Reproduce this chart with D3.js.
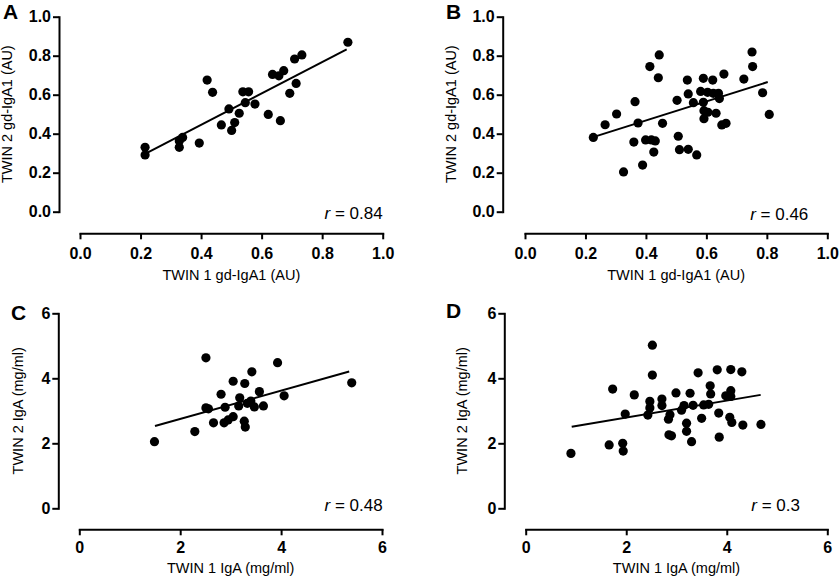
<!DOCTYPE html>
<html>
<head>
<meta charset="utf-8">
<script src="https://cdn.jsdelivr.net/npm/d3@7"></script>
<style>
  html, body { margin: 0; padding: 0; background: #fff; }
  svg { display: block; font-family: "Liberation Sans", Arial, sans-serif; }
</style>
</head>
<body>
<svg id="chart" width="840" height="578"></svg>
<script>
// ---------- DATA ----------
// Panel A: TWIN 1 vs TWIN 2 gd-IgA1 (AU)
const panelA_x = [0.215,0.215,0.328,0.339,0.328,0.394,0.420,0.438,0.467,0.492,0.501,0.511,0.526,0.538,0.557,0.546,0.578,0.622,0.636,0.657,0.673,0.662,0.693,0.714,0.709,0.733,0.885];
const panelA_y = [0.330,0.291,0.363,0.381,0.330,0.352,0.675,0.612,0.445,0.527,0.417,0.457,0.505,0.615,0.615,0.559,0.552,0.499,0.704,0.697,0.723,0.467,0.607,0.658,0.783,0.804,0.869];
const fitA_x = [0.215, 0.881];
const fitA_y = [0.296, 0.833];
const rA = "0.84";

// Panel B: TWIN 1 vs TWIN 2 gd-IgA1 (AU)
const panelB_x = [0.226,0.265,0.303,0.326,0.360,0.364,0.374,0.389,0.399,0.413,0.418,0.431,0.426,0.441,0.444,0.455,0.503,0.507,0.511,0.540,0.537,0.540,0.557,0.568,0.581,0.590,0.590,0.592,0.592,0.604,0.605,0.621,0.623,0.632,0.640,0.643,0.651,0.658,0.665,0.724,0.753,0.751,0.786,0.808];
const panelB_y = [0.381,0.446,0.501,0.204,0.357,0.564,0.455,0.239,0.368,0.744,0.368,0.363,0.306,0.687,0.804,0.453,0.571,0.387,0.318,0.320,0.675,0.604,0.559,0.291,0.617,0.684,0.561,0.518,0.477,0.612,0.510,0.675,0.607,0.505,0.607,0.580,0.445,0.706,0.453,0.680,0.744,0.819,0.610,0.499];
const fitB_x = [0.220, 0.803];
const fitB_y = [0.380, 0.665];
const rB = "0.46";

// Panel C: TWIN 1 vs TWIN 2 IgA (mg/ml)
const panelC_x = [1.49,2.29,2.51,2.51,2.56,2.66,2.81,2.87,2.89,2.95,3.05,3.05,3.18,3.16,3.28,3.27,3.29,3.33,3.42,3.40,3.47,3.57,3.65,3.93,4.06,5.40];
const panelC_y = [2.05,2.36,4.63,3.09,3.06,2.63,3.51,2.63,3.11,2.72,3.91,2.82,3.40,3.15,3.84,2.68,2.50,3.23,4.20,3.30,3.12,3.59,3.15,4.48,3.46,3.86];
const fitC_x = [1.50, 5.35];
const fitC_y = [2.53, 4.21];
const rC = "0.48";

// Panel D: TWIN 1 vs TWIN 2 IgA (mg/ml)
const panelD_x = [0.90,1.66,1.73,1.93,1.94,1.98,2.16,2.43,2.47,2.47,2.52,2.52,2.71,2.71,2.84,2.87,2.85,2.90,2.99,3.10,3.15,3.20,3.20,3.27,3.30,3.33,3.43,3.50,3.54,3.64,3.67,3.68,3.81,3.84,3.85,3.98,4.08,4.08,4.08,4.06,4.10,4.30,4.32,4.68];
const panelD_y = [1.69,1.95,3.67,2.00,1.76,2.90,3.49,2.87,3.29,3.09,5.02,4.10,3.36,3.16,2.74,2.88,2.26,2.23,3.55,3.02,3.16,2.62,2.37,3.54,2.05,3.17,4.17,2.77,3.18,3.20,3.77,3.52,4.26,2.93,2.19,3.46,3.62,4.27,3.44,2.80,2.64,4.20,2.56,2.58];
const fitD_x = [0.915, 4.675];
const fitD_y = [2.51, 3.49];
const rD = "0.3";

const ticksGd = [0.0, 0.2, 0.4, 0.6, 0.8, 1.0];
const ticksIgA = [0, 2, 4, 6];
const letters = ["A", "B", "C", "D"];
const xTitles = ["TWIN 1 gd-IgA1 (AU)", "TWIN 1 gd-IgA1 (AU)", "TWIN 1 IgA (mg/ml)", "TWIN 1 IgA (mg/ml)"];
const yTitles = ["TWIN 2 gd-IgA1 (AU)", "TWIN 2 gd-IgA1 (AU)", "TWIN 2 IgA (mg/ml)", "TWIN 2 IgA (mg/ml)"];

// ---------- LAYOUT ----------
const panels = [
  { xs: panelA_x, ys: panelA_y, fx: fitA_x, fy: fitA_y, r: rA, ticks: ticksGd, fmt: d3.format(".1f"), dom: [0, 1],
    yAxisX: 59, xr: [80, 382.7], yr: [211.7, 16.7], xAxisY: 233.3, xPad: 8.5,
    letter: [3, 19], yTitleX: 11.5, xTitleY: 279.5, rPos: [382.7, 219] },
  { xs: panelB_x, ys: panelB_y, fx: fitB_x, fy: fitB_y, r: rB, ticks: ticksGd, fmt: d3.format(".1f"), dom: [0, 1],
    yAxisX: 502.7, xr: [525, 827.3], yr: [211.7, 16.7], xAxisY: 233.3, xPad: 8.5,
    letter: [446, 19], yTitleX: 455.5, xTitleY: 279.5, rPos: [808.3, 220] },
  { xs: panelC_x, ys: panelC_y, fx: fitC_x, fy: fitC_y, r: rC, ticks: ticksIgA, fmt: d3.format("d"), dom: [0, 6],
    yAxisX: 58.3, xr: [79.3, 382], yr: [508.3, 313.3], xAxisY: 529.3, xPad: 6.5,
    letter: [11, 320], yTitleX: 23, xTitleY: 573, rPos: [382.7, 511] },
  { xs: panelD_x, ys: panelD_y, fx: fitD_x, fy: fitD_y, r: rD, ticks: ticksIgA, fmt: d3.format("d"), dom: [0, 6],
    yAxisX: 504.3, xr: [525.7, 827.3], yr: [508.3, 313.3], xAxisY: 529.3, xPad: 6.5,
    letter: [446, 318], yTitleX: 467, xTitleY: 573, rPos: [800, 511] }
];

const svg = d3.select("#chart");

panels.forEach((p, i) => {
  const g = svg.append("g");
  const x = d3.scaleLinear().domain(p.dom).range(p.xr);
  const y = d3.scaleLinear().domain(p.dom).range(p.yr);

  // Y axis
  const ya = g.append("g")
    .attr("transform", `translate(${p.yAxisX},0)`)
    .call(d3.axisLeft(y).tickValues(p.ticks).tickFormat(p.fmt).tickSize(6).tickSizeOuter(0).tickPadding(2));
  // X axis
  const xa = g.append("g")
    .attr("transform", `translate(0,${p.xAxisY})`)
    .call(d3.axisBottom(x).tickValues(p.ticks).tickFormat(p.fmt).tickSize(6).tickSizeOuter(0).tickPadding(p.xPad));

  [ya, xa].forEach(a => {
    a.select(".domain").attr("stroke", "#000").attr("stroke-width", 2).attr("stroke-linecap", "square");
    a.selectAll(".tick line").attr("stroke", "#000").attr("stroke-width", 2);
    a.selectAll(".tick text").attr("fill", "#000")
      .style("font-family", '"Liberation Sans", Arial, sans-serif')
      .style("font-size", "16px").style("font-weight", "bold");
  });

  // Points
  g.append("g").selectAll("circle")
    .data(p.xs.map((v, k) => [v, p.ys[k]]))
    .join("circle")
    .attr("cx", d => x(d[0]))
    .attr("cy", d => y(d[1]))
    .attr("r", 4.6)
    .attr("fill", "#000");

  // Fit line
  g.append("line")
    .attr("x1", x(p.fx[0])).attr("y1", y(p.fy[0]))
    .attr("x2", x(p.fx[1])).attr("y2", y(p.fy[1]))
    .attr("stroke", "#000").attr("stroke-width", 2);

  // Panel letter
  g.append("text")
    .attr("x", p.letter[0]).attr("y", p.letter[1])
    .style("font-size", "21px").style("font-weight", "bold")
    .text(letters[i]);

  // X title
  g.append("text")
    .attr("x", (p.xr[0] + p.xr[1]) / 2).attr("y", p.xTitleY)
    .attr("text-anchor", "middle")
    .style("font-size", "14.5px")
    .text(xTitles[i]);

  // Y title
  g.append("text")
    .attr("transform", `translate(${p.yTitleX},${(p.yr[0] + p.yr[1]) / 2}) rotate(-90)`)
    .attr("text-anchor", "middle")
    .style("font-size", "14.5px")
    .text(yTitles[i]);

  // r label
  const rt = g.append("text")
    .attr("x", p.rPos[0]).attr("y", p.rPos[1])
    .attr("text-anchor", "end")
    .style("font-size", "17px");
  rt.append("tspan").style("font-style", "italic").text("r");
  rt.append("tspan").text(" = " + p.r);
});
</script>
</body>
</html>
